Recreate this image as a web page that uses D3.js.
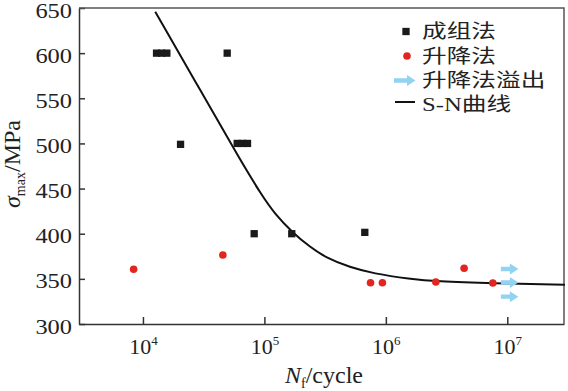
<!DOCTYPE html>
<html>
<head>
<meta charset="utf-8">
<script src="https://cdn.jsdelivr.net/npm/d3@7"></script>
<style>
  body { margin: 0; background: #fff; }
  text { font-family: "Liberation Serif", "Times New Roman", "Noto Sans CJK SC", serif; fill: #222; }
</style>
</head>
<body>
<script>
// S-N data
var groupN = [12940, 14280, 15730, 49400, 20400, 59700, 65900, 72600, 82400, 168000, 671000];
var groupS = [600, 600, 600, 600, 499, 500, 500, 500, 400, 400, 401.5];

var updownN = [8380, 45500, 748000, 937000, 2580000, 4410000, 7600000];
var updownS = [360.6, 376.4, 345.7, 345.7, 346.5, 361.7, 345.4];

var runoutN = [10500000, 10500000, 10500000];
var runoutS = [361, 346, 330.3];

var curveN = [12625, 29610, 63170, 95870, 120300, 172500, 238100, 322300, 507800, 785400, 1583000, 2591000, 7628000, 29850000];
var curveS = [645.9, 559.2, 481.6, 441.8, 422.9, 400.5, 385.3, 373.2, 362.7, 356, 349.8, 347.1, 345.1, 343.5];

var xTicks = [1e4, 1e5, 1e6, 1e7];
var xExp = ["4", "5", "6", "7"];
var yTicks = [300, 350, 400, 450, 500, 550, 600, 650];

var legendLabels = ["成组法", "升降法", "升降法溢出", "S-N曲线"];

var width = 568, height = 391;
var margin = {top: 8, left: 79, right: 4, bottom: 67};

var svg = d3.select("body").append("svg")
  .attr("width", width)
  .attr("height", height);

var x = d3.scaleLog()
  .domain([2975, 2.93e7])
  .range([margin.left, width - margin.right]);

var y = d3.scaleLinear()
  .domain([300, 650])
  .range([height - margin.bottom, margin.top]);

var red = "#e3251f", blue = "#92d2f2";

// axes
var xAxis = svg.append("g")
  .attr("transform", "translate(0," + (height - margin.bottom) + ")")
  .call(d3.axisBottom(x).tickValues(xTicks).tickSizeInner(-7).tickSizeOuter(0).tickFormat(""));

var yAxis = svg.append("g")
  .attr("transform", "translate(" + margin.left + ",0)")
  .call(d3.axisLeft(y).tickValues(yTicks).tickSizeInner(-6).tickSizeOuter(0).tickFormat(""));

svg.selectAll(".domain, .tick line").attr("stroke", "#333").attr("stroke-width", 1.5);

// top and right border
svg.append("path")
  .attr("d", "M" + x.range()[0] + "," + y(650) + "H" + x.range()[1] + "V" + y(300))
  .attr("fill", "none")
  .attr("stroke", "#555")
  .attr("stroke-width", 1.5);

// tick labels
yAxis.selectAll(".tick").append("text")
  .attr("transform", "translate(-7,0) scale(1.22,1)")
  .attr("text-anchor", "end")
  .attr("dy", "0.45em")
  .style("font-size", "20px")
  .text(function(d) { return d; });

xAxis.selectAll(".tick").append("text")
  .attr("y", 30)
  .attr("text-anchor", "middle")
  .style("font-size", "22px")
  .each(function(d, i) {
    var t = d3.select(this);
    t.append("tspan").text("10");
    t.append("tspan").attr("dy", -9).style("font-size", "13px").text(xExp[i]);
  });

// axis titles
var xt = svg.append("text")
  .attr("x", 324)
  .attr("y", 383)
  .attr("text-anchor", "middle")
  .style("font-size", "24px");
xt.append("tspan").style("font-style", "italic").text("N");
xt.append("tspan").attr("dy", 5).style("font-size", "14px").text("f");
xt.append("tspan").attr("dy", -5).text("/cycle");

var yt = svg.append("text")
  .attr("transform", "translate(20,164) rotate(-90)")
  .attr("text-anchor", "middle")
  .style("font-size", "24px");
yt.append("tspan").style("font-style", "italic").text("σ");
yt.append("tspan").attr("dy", 5).style("font-size", "14px").text("max");
yt.append("tspan").attr("dy", -5).text("/MPa");

// S-N curve
var line = d3.line()
  .x(function(d) { return x(d[0]); })
  .y(function(d) { return y(d[1]); })
  .curve(d3.curveBasis);

svg.append("path")
  .datum(d3.zip(curveN, curveS))
  .attr("d", line)
  .attr("fill", "none")
  .attr("stroke", "#111")
  .attr("stroke-width", 2);

// squares
var sq = 7.3;
svg.selectAll("rect.grp")
  .data(d3.zip(groupN, groupS))
  .enter().append("rect")
    .attr("class", "grp")
    .attr("x", function(d) { return x(d[0]) - sq / 2; })
    .attr("y", function(d) { return y(d[1]) - sq / 2; })
    .attr("width", sq)
    .attr("height", sq)
    .attr("fill", "#1a1a1a");

// circles
svg.selectAll("circle.ud")
  .data(d3.zip(updownN, updownS))
  .enter().append("circle")
    .attr("class", "ud")
    .attr("cx", function(d) { return x(d[0]); })
    .attr("cy", function(d) { return y(d[1]); })
    .attr("r", 3.8)
    .attr("fill", red);

// runout arrows
var arrowPath = "M-9,-2.2H0V-5.5L8.5,0L0,5.5V2.2H-9Z";
svg.selectAll("path.ro")
  .data(d3.zip(runoutN, runoutS))
  .enter().append("path")
    .attr("class", "ro")
    .attr("d", arrowPath)
    .attr("transform", function(d) { return "translate(" + x(d[0]) + "," + y(d[1]) + ")"; })
    .attr("fill", blue);

// legend
var legY = [31.5, 56, 80.5, 104];
var leg = svg.append("g");
leg.append("rect").attr("x", 406 - sq / 2).attr("y", legY[0] - sq / 2).attr("width", sq).attr("height", sq).attr("fill", "#1a1a1a");
leg.append("circle").attr("cx", 407).attr("cy", legY[1]).attr("r", 3.8).attr("fill", red);
leg.append("path").attr("d", "M-11,-2.2H2V-5.5L10.5,0L2,5.5V2.2H-11Z").attr("transform", "translate(405," + legY[2] + ")").attr("fill", blue);
leg.append("line").attr("x1", 395).attr("x2", 415).attr("y1", legY[3] - 2).attr("y2", legY[3] - 2).attr("stroke", "#111").attr("stroke-width", 2);

leg.selectAll("text")
  .data(legendLabels)
  .enter().append("text")
    .attr("transform", function(d, i) { return "translate(422," + legY[i] + ") scale(1.3,1)"; })
    .attr("dy", "0.36em")
    .style("font-size", "19px")
    .text(function(d) { return d; });
</script>
</body>
</html>
